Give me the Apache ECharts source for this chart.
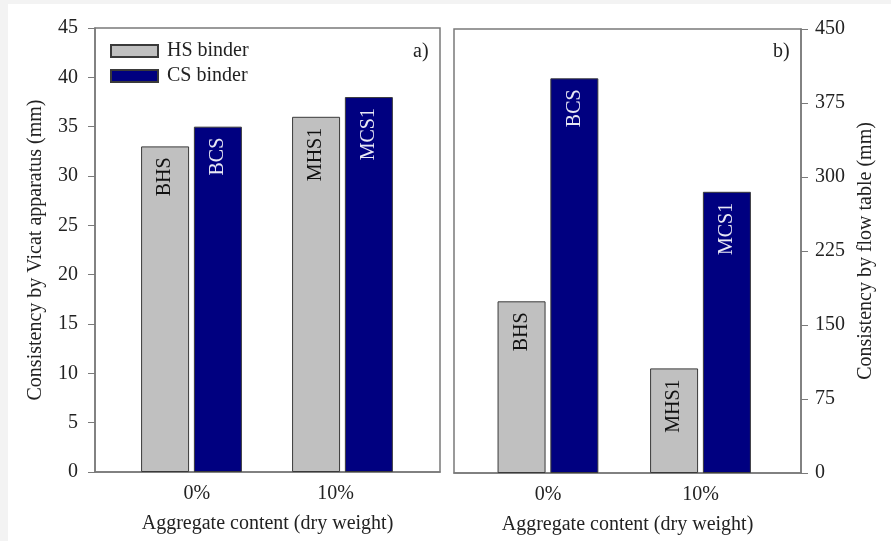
<!DOCTYPE html>
<html>
<head>
<meta charset="utf-8">
<script src="https://cdn.jsdelivr.net/npm/echarts@6/dist/echarts.min.js"></script>
<style>html,body{margin:0;padding:0;background:#f3f3f3;}#c{width:891px;height:541px;}</style>
</head>
<body>
<div id="c"></div>
<script>
const categories = ['0%', '10%'];
const seriesNames = ['HS binder', 'CS binder'];
// Panel a) Vicat consistency (mm)
const vicatHS = [33, 36];
const vicatCS = [35, 38];
const vicatHSLabels = ['BHS', 'MHS1'];
const vicatCSLabels = ['BCS', 'MCS1'];
// Panel b) flow table consistency (mm)
const flowHS = [174, 106];
const flowCS = [400, 285];
const flowHSLabels = ['BHS', 'MHS1'];
const flowCSLabels = ['BCS', 'MCS1'];
const vicatTicks = [0, 5, 10, 15, 20, 25, 30, 35, 40, 45];
const flowTicks = [0, 75, 150, 225, 300, 375, 450];

const FONT = 'Liberation Serif';
const FS = 20;
const txt = '#222';
const axisGrey = '#7a7a7a';
const GREY = '#c0c0c0', BLUE = '#000080';

function pts(vals) { return vals.map((v, i) => [i, v]); }

function barSeries(name, vals, labels, color, labelColor, xi) {
  return {
    type: 'bar', name: name, xAxisIndex: xi, yAxisIndex: xi,
    data: pts(vals),
    barWidth: 48, barGap: '10%',
    itemStyle: { color: color, borderColor: '#3a3a3a', borderWidth: 1 },
    label: {
      show: true, position: 'insideTop', distance: 11, rotate: 90,
      align: 'right', verticalAlign: 'middle',
      fontFamily: FONT, fontSize: FS, color: labelColor,
      formatter: p => labels[p.dataIndex]
    },
    emphasis: { disabled: true }
  };
}

function xAx(gi, min, max, labelPos) {
  return {
    type: 'value', gridIndex: gi, min: min, max: max,
    axisLine: { show: true, onZero: false, lineStyle: { color: axisGrey, width: 1.5 } },
    axisTick: { show: false },
    splitLine: { show: false },
    axisLabel: {
      customValues: labelPos, margin: 12,
      fontFamily: FONT, fontSize: FS, color: txt,
      formatter: v => categories[v < 0.5 ? 0 : 1]
    },
    name: 'Aggregate content (dry weight)', nameLocation: 'middle', nameGap: 42,
    nameTextStyle: { fontFamily: FONT, fontSize: FS, color: txt }
  };
}

function yAx(gi, pos, max, interval, ticks, name, nameGap, margin) {
  return {
    type: 'value', gridIndex: gi, position: pos, min: 0, max: max, interval: interval,
    axisLine: { show: true, onZero: false, lineStyle: { color: axisGrey, width: 1.5 } },
    axisTick: { show: true, length: 7, lineStyle: { color: axisGrey, width: 1 } },
    splitLine: { show: false },
    axisLabel: { margin: margin, fontFamily: FONT, fontSize: FS, color: txt,
      formatter: v => String(ticks[ticks.indexOf(v)] ?? v) },
    name: name, nameLocation: 'middle', nameGap: nameGap,
    nameTextStyle: { fontFamily: FONT, fontSize: FS, color: txt }
  };
}

const chart = echarts.init(document.getElementById('c'), null, { renderer: 'canvas' });
chart.setOption({
  backgroundColor: '#f3f3f3',
  animation: false,
  graphic: [{ type: 'rect', shape: { x: 8, y: 4, width: 900, height: 560 }, style: { fill: '#ffffff' }, z: -10, silent: true }],
  title: [
    { text: 'a)', left: 413, top: 42, padding: 0, textStyle: { fontFamily: FONT, fontSize: FS, fontWeight: 'normal', color: txt } },
    { text: 'b)', left: 773, top: 42, padding: 0, textStyle: { fontFamily: FONT, fontSize: FS, fontWeight: 'normal', color: txt } }
  ],
  legend: {
    data: seriesNames, orient: 'vertical', left: 110, top: 41, padding: 0,
    itemWidth: 47, itemHeight: 12, itemGap: 5, icon: 'rect',
    textStyle: { fontFamily: FONT, fontSize: FS, color: txt, padding: [0, 0, 0, 4] },
    selectedMode: false
  },
  grid: [
    { left: 95, top: 28, width: 345, height: 444, show: true, backgroundColor: '#fff', borderColor: axisGrey, borderWidth: 1.5 },
    { left: 454, top: 29, width: 347, height: 444, show: true, backgroundColor: '#fff', borderColor: axisGrey, borderWidth: 1.5 }
  ],
  xAxis: [
    xAx(0, -0.639, 1.646, [0.035, 0.955]),
    xAx(1, -0.616, 1.659, [0, 1])
  ],
  yAxis: [
    yAx(0, 'left', 45, 5, vicatTicks, 'Consistency by Vicat apparatus (mm)', 49, 17),
    yAx(1, 'right', 450, 75, flowTicks, 'Consistency by flow table (mm)', 55, 14)
  ],
  series: [
    barSeries(seriesNames[0], vicatHS, vicatHSLabels, GREY, '#111', 0),
    barSeries(seriesNames[1], vicatCS, vicatCSLabels, BLUE, '#e8e8f4', 0),
    barSeries(seriesNames[0], flowHS, flowHSLabels, GREY, '#111', 1),
    barSeries(seriesNames[1], flowCS, flowCSLabels, BLUE, '#e8e8f4', 1)
  ]
});
</script>
</body>
</html>
